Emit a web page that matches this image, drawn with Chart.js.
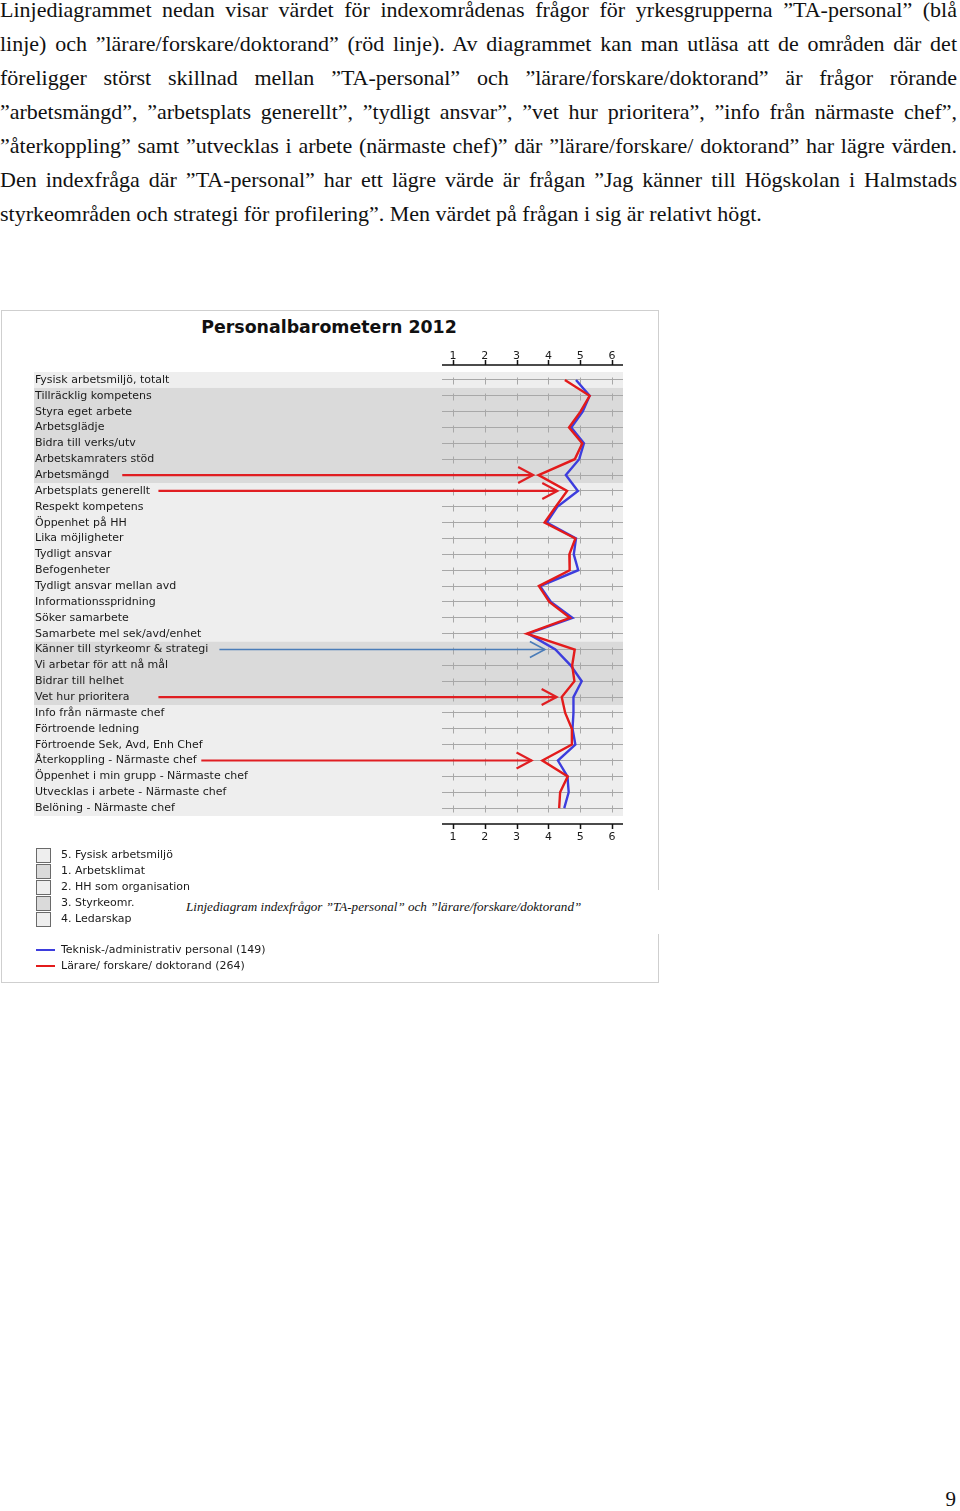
<!DOCTYPE html>
<html lang="sv">
<head>
<meta charset="utf-8">
<script src="https://cdn.jsdelivr.net/npm/chart.js@4.4.1/dist/chart.umd.min.js"></script>
<style>
  html, body { margin: 0; padding: 0; background: #fff; }
  body { width: 960px; height: 1511px; position: relative; overflow: hidden; }
  #para { position: absolute; left: 0; top: -7px; width: 957px;
          font-family: "Liberation Serif", "DejaVu Serif", serif; font-size: 22px; line-height: 34px; color: #111; }
  #para > div { height: 34px; overflow: visible; }
  #para .j { text-align: justify; text-align-last: justify; }
  #para .l { text-align: left; }
  #box { position: absolute; left: 1px; top: 310px; width: 656px; height: 671px; border: 1px solid #cfcfcf; }
  #title { position: absolute; left: 1px; top: 315px; width: 656px; text-align: center;
           font: bold 17.4px "DejaVu Sans", Verdana, sans-serif; line-height: 24px; color: #111; }
  #cv { position: absolute; left: 0; top: 311px; }
  .lg { position: absolute; font: 11px "DejaVu Sans", Verdana, sans-serif; color: #1a1a1a; line-height: 13px; white-space: nowrap; }
  .cb { position: absolute; width: 13px; height: 13px; border: 1px solid #6a6a6a; box-sizing: content-box; }
  .ln { position: absolute; height: 2px; width: 19px; }
  #capbox { position: absolute; left: 160px; top: 890px; width: 502px; height: 44px; background: #fff; }
  #cap { position: absolute; left: 186px; top: 898px; font: italic 13.1px "Liberation Serif", serif; line-height: 18px; color: #111; white-space: nowrap; }
  #pg { position: absolute; right: 4px; top: 1487px; font: 21px "Liberation Serif", serif; color: #111; }
</style>
</head>
<body>
<div id="para">
  <div class="j">Linjediagrammet nedan visar värdet för indexområdenas frågor för yrkesgrupperna ”TA-personal” (blå</div>
  <div class="j">linje) och ”lärare/forskare/doktorand” (röd linje). Av diagrammet kan man utläsa att de områden där det</div>
  <div class="j">föreligger störst skillnad mellan ”TA-personal” och ”lärare/forskare/doktorand” är frågor rörande</div>
  <div class="j">”arbetsmängd”, ”arbetsplats generellt”, ”tydligt ansvar”, ”vet hur prioritera”, ”info från närmaste chef”,</div>
  <div class="j">”återkoppling” samt ”utvecklas i arbete (närmaste chef)” där ”lärare/forskare/ doktorand” har lägre värden.</div>
  <div class="j">Den indexfråga där ”TA-personal” har ett lägre värde är frågan ”Jag känner till Högskolan i Halmstads</div>
  <div class="l">styrkeområden och strategi för profilering”. Men värdet på frågan i sig är relativt högt.</div>
</div>

<div id="box"></div>
<div id="title">Personalbarometern 2012</div>
<canvas id="cv" width="660" height="540"></canvas>
<div id="legend"></div>
<div id="capbox"></div>
<div id="cap">Linjediagram indexfrågor ”TA-personal” och ”lärare/forskare/doktorand”</div>
<div id="pg">9</div>

<script>
// keep each paragraph line on a single line (shrink if it would wrap)
document.querySelectorAll('#para > div').forEach(el => {
  el.style.height = 'auto';
  let fs = 22;
  while (el.offsetHeight > 40 && fs > 16) { fs -= 0.25; el.style.fontSize = fs + 'px'; }
  el.style.height = '34px';
});

// ---------- DATA ----------
const categories = [
  'Fysisk arbetsmiljö, totalt',
  'Tillräcklig kompetens',
  'Styra eget arbete',
  'Arbetsglädje',
  'Bidra till verks/utv',
  'Arbetskamraters stöd',
  'Arbetsmängd',
  'Arbetsplats generellt',
  'Respekt kompetens',
  'Öppenhet på HH',
  'Lika möjligheter',
  'Tydligt ansvar',
  'Befogenheter',
  'Tydligt ansvar mellan avd',
  'Informationsspridning',
  'Söker samarbete',
  'Samarbete mel sek/avd/enhet',
  'Känner till styrkeomr & strategi',
  'Vi arbetar för att nå mål',
  'Bidrar till helhet',
  'Vet hur prioritera',
  'Info från närmaste chef',
  'Förtroende ledning',
  'Förtroende Sek, Avd, Enh Chef',
  'Återkoppling - Närmaste chef',
  'Öppenhet i min grupp - Närmaste chef',
  'Utvecklas i arbete - Närmaste chef',
  'Belöning - Närmaste chef'
];

// Teknisk-/administrativ personal (blue)
const taValues = [4.87, 5.30, 5.08, 4.72, 5.12, 4.97, 4.55, 4.93, 4.28, 3.95,
                  4.87, 4.80, 4.94, 3.74, 4.08, 4.76, 3.36, 4.22, 4.70, 5.05,
                  4.79, 4.79, 4.76, 4.85, 4.30, 4.60, 4.64, 4.50];
// Lärare/ forskare/ doktorand (red)
const lfdValues = [4.52, 5.30, 5.01, 4.65, 5.07, 4.83, 3.69, 4.59, 4.23, 3.88,
                   4.85, 4.66, 4.67, 3.70, 4.03, 4.68, 3.32, 4.83, 4.75, 4.82,
                   4.42, 4.53, 4.74, 4.74, 3.81, 4.61, 4.37, 4.34];

const seriesNames = ['Teknisk-/administrativ personal (149)', 'Lärare/ forskare/ doktorand (264)'];

const tickValues = [1, 2, 3, 4, 5, 6];
const axisMin = 0.65, axisMax = 6.35;

const groupNames = ['5. Fysisk arbetsmiljö', '1. Arbetsklimat', '2. HH som organisation', '3. Styrkeomr.', '4. Ledarskap'];
const groupRowCounts = [1, 6, 10, 4, 7];

// annotation arrows (row, start value, end value, series)
const arrowRows = ['Arbetsmängd', 'Arbetsplats generellt', 'Känner till styrkeomr & strategi', 'Vet hur prioritera', 'Återkoppling - Närmaste chef'];
const arrowFrom = [-9.42, -8.28, -6.36, -8.28, -6.93];
const arrowTo   = [3.52, 4.28, 3.89, 4.26, 3.47];
const arrowSeries = ['lfd', 'lfd', 'ta', 'lfd', 'lfd'];

// ---------- STYLE ----------
const BLUE = '#3d3ddd';
const RED = '#e31b1b';
const ARROW_COLORS = { lfd: '#e01e22', ta: '#4a7cb8' };
const LIGHT = '#eeeeee', DARK = '#dadada';
const ROW_LINE = '#a8a8a8';
const FONT = '"DejaVu Sans", Verdana, sans-serif';

// ---------- LEGEND (HTML) ----------
(function () {
  const lg = document.getElementById('legend');
  groupNames.forEach((g, i) => {
    const cy = 855 + i * 16;
    const b = document.createElement('div');
    b.className = 'cb';
    b.style.left = '36px'; b.style.top = (cy - 7) + 'px';
    b.style.background = i % 2 ? DARK : LIGHT;
    lg.appendChild(b);
    const t = document.createElement('div');
    t.className = 'lg'; t.textContent = g;
    t.style.left = '61px'; t.style.top = (cy - 7) + 'px';
    lg.appendChild(t);
  });
  [BLUE, RED].forEach((c, i) => {
    const cy = 950 + i * 16;
    const l = document.createElement('div');
    l.className = 'ln'; l.style.left = '36px'; l.style.top = (cy - 1) + 'px'; l.style.background = c;
    lg.appendChild(l);
    const t = document.createElement('div');
    t.className = 'lg'; t.textContent = seriesNames[i];
    t.style.left = '61px'; t.style.top = (cy - 7) + 'px';
    lg.appendChild(t);
  });
})();

// ---------- PLUGINS ----------
const decor = {
  id: 'decor',
  beforeDraw(chart) {
    const { ctx, chartArea, scales: { x, y } } = chart;
    const step = y.getPixelForValue(1) - y.getPixelForValue(0);
    let start = 0;
    ctx.save();
    groupRowCounts.forEach((n, gi) => {
      const top = y.getPixelForValue(start) - step / 2;
      const bot = y.getPixelForValue(start + n - 1) + step / 2;
      ctx.fillStyle = gi % 2 ? DARK : LIGHT;
      ctx.fillRect(y.left - 1, top, chartArea.right - y.left + 1, bot - top);
      start += n;
    });
    ctx.restore();
  },
  beforeDatasetsDraw(chart) {
    const { ctx, scales: { x, y } } = chart;
    ctx.save();
    ctx.strokeStyle = ROW_LINE;
    ctx.lineWidth = 1;
    categories.forEach((c, i) => {
      const py = Math.round(y.getPixelForValue(i)) + 0.5;
      tickValues.forEach(v => {
        const px = Math.round(x.getPixelForValue(v)) + 0.5;
        ctx.beginPath();
        ctx.moveTo(px, py - 3);
        ctx.lineTo(px, py + 4);
        ctx.stroke();
      });
    });
    ctx.restore();
  },
  afterDatasetsDraw(chart) {
    const { ctx, chartArea, scales: { x, y } } = chart;
    ctx.save();
    // arrows
    arrowRows.forEach((r, i) => {
      const py = y.getPixelForValue(categories.indexOf(r));
      const x0 = x.getPixelForValue(arrowFrom[i]);
      const x1 = x.getPixelForValue(arrowTo[i]);
      const isTa = arrowSeries[i] === 'ta';
      ctx.strokeStyle = ARROW_COLORS[arrowSeries[i]];
      ctx.lineWidth = isTa ? 1.6 : 2.2;
      ctx.lineCap = 'butt';
      ctx.beginPath();
      ctx.moveTo(x0, py);
      ctx.lineTo(x1, py);
      ctx.stroke();
      ctx.beginPath();
      ctx.moveTo(x1 - 15, py - 8);
      ctx.lineTo(x1, py);
      ctx.lineTo(x1 - 15, py + 8);
      ctx.stroke();
    });
    // top / bottom axis lines with ticks
    ctx.strokeStyle = '#111';
    ctx.lineWidth = 1.5;
    const yt = chartArea.top - 7, yb = chartArea.bottom + 8;
    ctx.beginPath();
    ctx.moveTo(chartArea.left, yt); ctx.lineTo(chartArea.right, yt);
    ctx.moveTo(chartArea.left, yb); ctx.lineTo(chartArea.right, yb);
    tickValues.forEach(v => {
      const px = Math.round(x.getPixelForValue(v)) + 0.5;
      ctx.moveTo(px, yt); ctx.lineTo(px, yt - 5);
      ctx.moveTo(px, yb); ctx.lineTo(px, yb + 5);
    });
    ctx.stroke();
    ctx.restore();
  }
};

const setTicks = (scale) => { scale.ticks = tickValues.map(v => ({ value: v })); };

new Chart(document.getElementById('cv'), {
  type: 'line',
  data: {
    labels: categories,
    datasets: [
      { label: seriesNames[1], data: lfdValues, borderColor: RED, borderWidth: 2.4, pointRadius: 0, tension: 0, order: 0, xAxisID: 'x' },
      { label: seriesNames[0], data: taValues, borderColor: BLUE, borderWidth: 2.4, pointRadius: 0, tension: 0, order: 1, xAxisID: 'x' }
    ]
  },
  options: {
    indexAxis: 'y',
    responsive: false,
    animation: false,
    events: [],
    layout: { padding: { left: 35, right: 37, top: 31, bottom: 5 } },
    plugins: { legend: { display: false }, tooltip: { enabled: false }, title: { display: false } },
    scales: {
      y: {
        type: 'category',
        position: 'left',
        offset: true,
        border: { display: false },
        grid: { color: ROW_LINE, lineWidth: 1, drawTicks: false, offset: false },
        ticks: { autoSkip: false, crossAlign: 'far', padding: 0, color: '#1a1a1a', font: { family: FONT, size: 11 } },
        afterFit: (s) => { s.width = 407; }
      },
      x: {
        type: 'linear',
        position: 'bottom',
        min: axisMin, max: axisMax,
        border: { display: false },
        grid: { display: false },
        afterBuildTicks: setTicks,
        ticks: { padding: 7, color: '#1a1a1a', font: { family: FONT, size: 11 } },
        afterFit: (s) => { s.height = 30; }
      },
      x2: {
        type: 'linear',
        position: 'top',
        min: axisMin, max: axisMax,
        border: { display: false },
        grid: { display: false },
        afterBuildTicks: setTicks,
        ticks: { padding: 1, color: '#1a1a1a', font: { family: FONT, size: 11 } },
        afterFit: (s) => { s.height = 30; }
      }
    }
  },
  plugins: [decor]
});
</script>
</body>
</html>
